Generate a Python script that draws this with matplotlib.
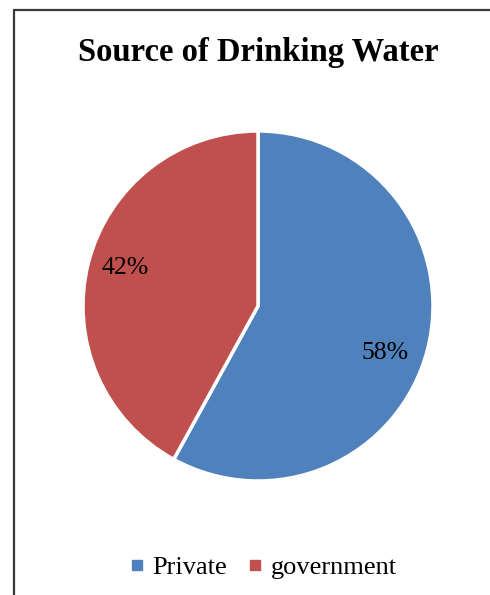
import matplotlib
matplotlib.use("Agg")
import matplotlib.pyplot as plt
from matplotlib.lines import Line2D
from matplotlib.patches import Rectangle

# Survey shares by water source
sources = ["Private", "government"]
shares = [58, 42]
colors = ["#4F81BD", "#C0504D"]

W, H = 490, 595
plt.rcParams['font.family'] = ['Liberation Serif', 'DejaVu Serif']

fig = plt.figure(figsize=(W / 100, H / 100), dpi=100)

# Chart frame (left and top edges visible)
fig.patches.append(Rectangle((14 / W, -0.1), 1.2, 1.1 - 10.5 / H,
                             transform=fig.transFigure, fill=False,
                             edgecolor="#3a3a3a", linewidth=1.6))

# Pie centred at (258, 306) px with radius 175 px
cx, cy, r = 258, 306, 175
ax = fig.add_axes([(cx - r) / W, 1 - (cy + r) / H, 2 * r / W, 2 * r / H])
wedges, texts, autotexts = ax.pie(
    shares, colors=colors, startangle=90, counterclock=False,
    autopct=lambda p: f"{p:.0f}%", pctdistance=0.79,
    wedgeprops=dict(edgecolor="white", linewidth=2.5),
    textprops=dict(fontsize=18.5, color="black"))
# data labels placed inside each slice
label_pos = [(0.725, -0.27), (-0.76, 0.215)]
for t, pos in zip(autotexts, label_pos):
    t.set_position(pos)
ax.set_aspect("auto")
ax.set_xlim(-1, 1)
ax.set_ylim(-1, 1)
ax.axis("off")

fig.text(258 / W, 1 - 52 / H, "Source of Drinking Water", ha="center",
         va="center", fontsize=23.5, fontweight="bold")

handles = [Line2D([], [], marker="s", linestyle="none", markersize=6.5,
                  markerfacecolor=c, markeredgecolor=c) for c in colors]
fig.legend(handles, sources, loc="center", bbox_to_anchor=(263 / W, 1 - 567 / H),
           ncol=2, frameon=False, fontsize=19, handlelength=0.6,
           handletextpad=0.3, columnspacing=0.75)

fig.savefig("out.png", dpi=100)
